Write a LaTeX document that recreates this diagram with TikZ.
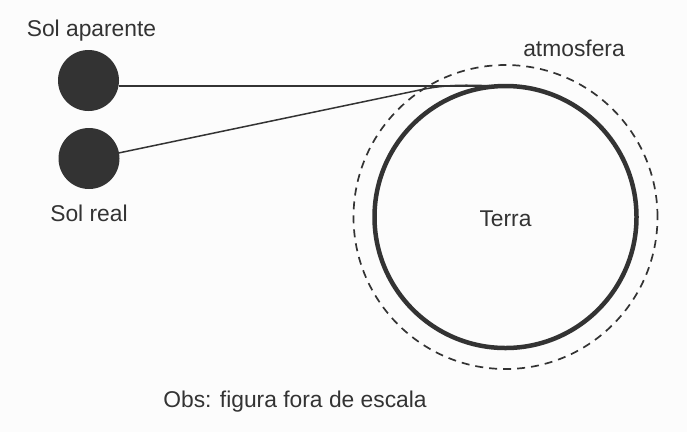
\documentclass[tikz,border=0pt]{standalone}
\usepackage{fontspec}
\setmainfont{Liberation Sans}
\usetikzlibrary{calc}
\definecolor{ink}{HTML}{333333}
\definecolor{bg}{HTML}{FCFCFC}
\tikzset{
  sun/.style={circle, fill=ink, draw=none, minimum size=61bp, inner sep=0pt, outer sep=0pt},
  ray/.style={draw=ink, line width=1.5bp},
  earthc/.style={circle, draw=ink, line width=4.5bp, minimum size=262bp, inner sep=0pt, outer sep=0pt},
  atmo/.style={draw=ink, line width=1.7bp, dash pattern=on 8bp off 6bp},
  lbl/.style={text=ink, inner sep=0pt, anchor=base, font=\fontsize{22.9}{27}\selectfont}
}
\begin{document}
\begin{tikzpicture}[x=1bp,y=-1bp]
\fill[bg] (0,0) rectangle (687,432);
\useasboundingbox (0,0) rectangle (687,432);
\node[sun] (sa) at (88.5,80.5) {};
\node[sun] (sr) at (89,158.5) {};
\node[earthc] (earth) at (505.5,217) {};
\draw[atmo] (earth.center) circle[radius=152bp];
\coordinate (rs) at ($(sr.center)+(29.5,-5.5)$);
\coordinate (bend) at (422,89.5);
\draw[ray] (sa.east |- earth.north) -- (earth.north);
\draw[ray] (rs) -- (bend) .. controls (455,82.8) and (478,86) .. (earth.north);
\node[lbl] (tsa) at (91.5,36) {Sol aparente};
\node[lbl] (tsr) at (89,221.5) {Sol real};
\node[lbl] (tat) at (574,56) {atmosfera};
\node[lbl] (tte) at (505.5,226.5) {Terra};
\node[lbl] (tobs) at (295,407.5) {Obs: figura fora de escala};
\end{tikzpicture}
\end{document}
